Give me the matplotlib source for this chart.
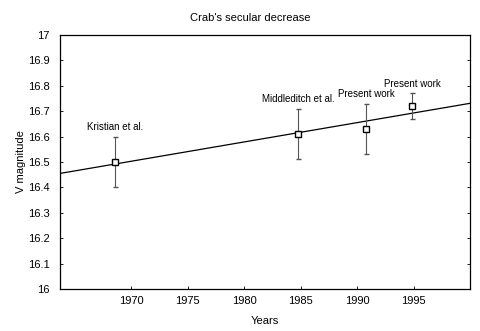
import matplotlib.pyplot as plt

plt.rcParams["font.family"] = ["Liberation Sans", "DejaVu Sans"]

# observations
years = [1968.6, 1984.8, 1990.8, 1994.9]
v_mag = [16.50, 16.61, 16.63, 16.72]
v_err = [0.10, 0.10, 0.10, 0.05]
labels = ["Kristian et al.", "Middleditch et al.", "Present work", "Present work"]

# linear fit, drawn across the whole x range
fit_years = [1963.7, 2000]
fit_values = [16.455, 16.731]

fig = plt.figure(figsize=(4.8, 3.31), dpi=100)
ax = fig.add_axes([60 / 480, 1 - 289 / 331, 410 / 480, 254 / 331])

ax.plot(fit_years, fit_values, color="black", linewidth=0.9)
ax.errorbar(years, v_mag, yerr=v_err, fmt="s", mfc="white", mec="black",
            ms=4, mew=1.0, ecolor="#555555", elinewidth=0.8, capsize=1.8,
            capthick=0.8, zorder=3)

# labels sit just above the top of each error bar
for x, y, e, lab in zip(years, v_mag, v_err, labels):
    ax.annotate(lab, (x, y + e), xytext=(0, 7), textcoords="offset points",
                ha="center", va="center", fontsize=7)

ax.set_xlim(1963.7, 2000)
ax.set_ylim(16, 17)
ax.set_xticks([1970, 1975, 1980, 1985, 1990, 1995])
ax.set_yticks([16 + i / 10 for i in range(11)])
ax.set_yticklabels(["16", "16.1", "16.2", "16.3", "16.4", "16.5", "16.6",
                    "16.7", "16.8", "16.9", "17"])
ax.tick_params(direction="in", length=2, width=0.6, labelsize=8,
               right=True, top=False)
ax.tick_params(axis="y", pad=7.5)
ax.tick_params(axis="x", pad=5)
for s in ax.spines.values():
    s.set_linewidth(0.9)

ax.set_xlabel("Years", fontsize=8, labelpad=7)
ax.set_ylabel("V magnitude", fontsize=8, labelpad=1)
fig.text(250 / 480, 1 - 18 / 331, "Crab's secular decrease", fontsize=8,
         ha="center", va="center")

fig.savefig("out.png", dpi=100)
